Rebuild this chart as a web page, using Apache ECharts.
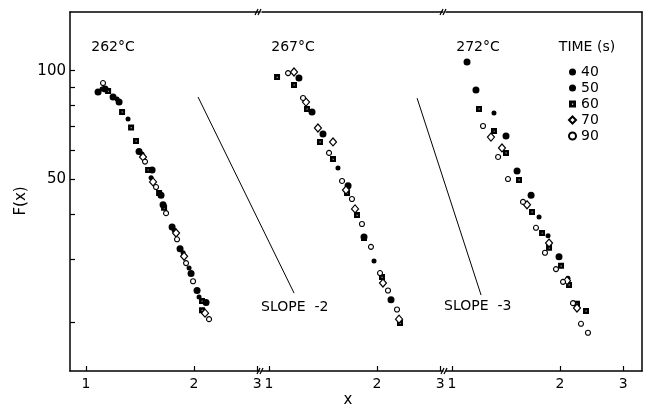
<!DOCTYPE html>
<html>
<head>
<meta charset="utf-8">
<script src="https://cdn.jsdelivr.net/npm/echarts@6/dist/echarts.min.js"></script>
<style>
  html, body { margin: 0; padding: 0; background: #fff; }
  #chart { width: 649px; height: 409px; }
</style>
</head>
<body>
<div id="chart"></div>
<script>
// tick values and labels
const xTicks = [1, 2, 3];
const yTicks = [20, 30, 40, 50, 60, 70, 80, 90, 100];
const yLabels = [50, 100];
const times = ['40', '50', '60', '70', '90'];
const temps = ['262°C', '267°C', '272°C'];

// visible x range of each panel (log axis, broken between panels)
const xRanges = [[0.902, 3.054], [0.956, 3.055], [0.962, 3.385]];
const yRange = [14.64, 145.6];
// continuous x range (262 panel scale carried across the whole frame), used for the slope guides
const guideRange = [0.902, 35.45];

// 262 °C
const t262_40 = [[1.080, 87.3], [1.130, 88.9], [1.189, 84.5], [1.236, 81.8], [1.405, 59.6], [1.528, 53.0], [1.618, 45.1], [1.639, 42.4], [1.737, 36.8], [1.828, 32.0], [1.962, 27.3], [2.039, 24.5], [2.160, 22.7]];
const t262_50 = [[1.108, 88.9], [1.220, 83.5], [1.309, 73.4], [1.432, 58.7], [1.518, 50.4], [1.759, 36.1], [1.864, 31.2], [1.937, 28.3], [2.065, 23.5]];
const t262_60 = [[1.152, 87.8], [1.260, 76.8], [1.335, 69.5], [1.378, 63.8], [1.489, 53.0], [1.598, 45.7], [1.650, 41.6], [2.105, 22.9], [2.105, 21.6]];
const t262_70 = [[1.441, 57.6], [1.537, 49.1], [1.782, 35.4], [1.876, 30.5], [2.146, 21.2]];
const t262_90 = [[1.115, 92.4], [1.460, 55.9], [1.567, 47.5], [1.671, 40.2], [1.793, 34.0], [1.900, 29.2], [1.987, 26.0], [2.202, 20.4]];

// 267 °C
const t267_40 = [[1.212, 95.4], [1.318, 76.8], [1.414, 66.7], [1.661, 47.9], [1.840, 34.5], [2.188, 23.1]];
const t267_50 = [[1.557, 53.7], [1.962, 29.6]];
const t267_60 = [[1.053, 96.0], [1.174, 91.3], [1.276, 78.3], [1.387, 63.4], [1.508, 56.8], [1.650, 45.7], [1.759, 39.7], [1.840, 34.3], [2.065, 26.7], [2.318, 19.9]];
const t267_70 = [[1.174, 99.2], [1.268, 81.8], [1.369, 69.3], [1.508, 63.4], [1.639, 46.6], [1.737, 41.3], [2.078, 25.7], [2.304, 20.4]];
const t267_90 = [[1.130, 98.5], [1.244, 84.0], [1.470, 59.1], [1.598, 49.4], [1.703, 44.0], [1.816, 37.5], [1.924, 32.4], [2.039, 27.4], [2.146, 24.5], [2.274, 21.7]];

// 272 °C
const t272_40 = [[1.101, 105.7], [1.166, 88.4], [1.414, 65.9], [1.518, 52.6], [1.661, 45.1], [1.987, 30.4]];
const t272_50 = [[1.309, 76.3], [1.748, 39.2], [1.852, 34.8], [2.105, 26.5]];
const t272_60 = [[1.189, 78.3], [1.309, 68.0], [1.414, 59.1], [1.537, 49.7], [1.671, 40.5], [1.782, 35.4], [1.864, 32.2], [2.013, 28.7], [2.119, 25.4], [2.230, 22.5], [2.363, 21.5]];
const t272_70 = [[1.284, 65.4], [1.378, 61.0], [1.618, 42.4], [1.864, 33.2], [2.092, 26.1], [2.230, 21.9]];
const t272_90 = [[1.220, 70.2], [1.344, 57.6], [1.432, 50.0], [1.577, 43.2], [1.714, 36.6], [1.816, 31.2], [1.949, 28.1], [2.039, 25.9], [2.174, 22.6], [2.288, 19.8], [2.393, 18.7]];

// reference slope lines (x, F) on the continuous guide scale
const slope2Line = [[2.052, 84.5], [3.80, 24.1]];
const slope3Line = [[8.37, 83.9], [12.62, 23.8]];

const panels = [
  [t262_40, t262_50, t262_60, t262_70, t262_90],
  [t267_40, t267_50, t267_60, t267_70, t267_90],
  [t272_40, t272_50, t272_60, t272_70, t272_90]
];

const FONT = 'DejaVu Sans';
const INK = '#000';

const markers = {
  '40': { symbol: 'circle', symbolSize: 7, itemStyle: { color: INK, opacity: 1 } },
  '50': { symbol: 'circle', symbolSize: 5, itemStyle: { color: INK, opacity: 1 } },
  '60': { symbol: 'path://M0 0L10 0L10 10L0 10Z M4.4 4.4L4.4 6L6 6L6 4.4Z', symbolSize: 6, itemStyle: { color: INK, opacity: 1 } },
  '70': { symbol: 'diamond', symbolSize: [7, 8], itemStyle: { color: '#fff', borderColor: INK, borderWidth: 1.2, opacity: 1 } },
  '90': { symbol: 'circle', symbolSize: 5, itemStyle: { color: '#fff', borderColor: INK, borderWidth: 1.1, opacity: 1 } }
};

const gridBoxes = [
  { left: 70, width: 190 },
  { left: 262, width: 181 },
  { left: 446, width: 196 },
  { left: 70, width: 572 }   // overlay for slope guides
];

const chart = echarts.init(document.getElementById('chart'), null, { renderer: 'canvas' });

const frameLine = { show: true, onZero: false, lineStyle: { color: INK, width: 1.5 } };

const grid = gridBoxes.map(b => ({ left: b.left, width: b.width, top: 12, height: 359 }));

const xAxis = [];
xRanges.forEach((r, i) => {
  xAxis.push({
    type: 'log', logBase: 10, gridIndex: i, min: r[0], max: r[1],
    axisLine: frameLine,
    axisTick: { show: true, inside: true, length: 5, customValues: xTicks, lineStyle: { color: INK, width: 1.2 } },
    axisLabel: { customValues: xTicks, color: INK, fontSize: 14, fontFamily: FONT, margin: 6 },
    splitLine: { show: false }, minorTick: { show: false }
  });
});
xRanges.forEach((r, i) => {
  xAxis.push({
    type: 'log', logBase: 10, gridIndex: i, min: r[0], max: r[1], position: 'top',
    axisLine: frameLine, axisTick: { show: false }, axisLabel: { show: false }, splitLine: { show: false }
  });
});
xAxis.push({ type: 'log', logBase: 10, gridIndex: 3, min: guideRange[0], max: guideRange[1], show: false });

const yAxis = [
  {
    type: 'log', logBase: 10, gridIndex: 0, min: yRange[0], max: yRange[1],
    axisLine: frameLine,
    axisTick: { show: true, inside: true, length: 5, customValues: yTicks, lineStyle: { color: INK, width: 1.2 } },
    axisLabel: { customValues: yLabels, color: INK, fontSize: 15, fontFamily: FONT, margin: 4 },
    splitLine: { show: false }
  },
  { type: 'log', logBase: 10, gridIndex: 1, min: yRange[0], max: yRange[1], show: false },
  {
    type: 'log', logBase: 10, gridIndex: 2, min: yRange[0], max: yRange[1], position: 'right',
    axisLine: frameLine, axisTick: { show: false }, axisLabel: { show: false }, splitLine: { show: false }
  },
  { type: 'log', logBase: 10, gridIndex: 3, min: yRange[0], max: yRange[1], show: false }
];

const series = [];
panels.forEach((sets, p) => {
  sets.forEach((data, k) => {
    const m = markers[times[k]];
    series.push({
      type: 'scatter', name: times[k], xAxisIndex: p, yAxisIndex: p,
      data: data, symbol: m.symbol, symbolSize: m.symbolSize, itemStyle: m.itemStyle,
      clip: false, z: 3 + k
    });
  });
});
[slope2Line, slope3Line].forEach((d, i) => {
  series.push({
    type: 'line', name: 'slope ' + (i + 2), xAxisIndex: 6, yAxisIndex: 3, data: d,
    symbol: 'none', silent: true, lineStyle: { color: INK, width: 1 }, z: 2
  });
});

function txt(text, x, y, size, align, rotation) {
  return {
    type: 'text', x: x, y: y, silent: true, rotation: rotation || 0,
    style: {
      text: text, font: size + 'px "' + FONT + '"', fill: INK,
      align: align || 'center', textAlign: align || 'center',
      verticalAlign: 'middle', textVerticalAlign: 'middle'
    }
  };
}
function tick(x1, y1, x2, y2) {
  return { type: 'line', silent: true, shape: { x1, y1, x2, y2 }, style: { stroke: INK, lineWidth: 1.2 } };
}

const graphic = [
  txt(temps[0], 113, 47, 14),
  txt(temps[1], 293, 47, 14),
  txt(temps[2], 478, 47, 14),
  txt('TIME (s)', 587, 47, 14),
  txt('SLOPE  -2', 261, 307, 14, 'left'),
  txt('SLOPE  -3', 444, 306, 14, 'left'),
  txt('x', 348, 400, 15),
  txt('F(x)', 21, 201, 15, 'center', Math.PI / 2),
  // break marks on top and bottom frame
  tick(255, 15, 258, 9), tick(258, 15, 261, 9),
  tick(440, 15, 443, 9), tick(443, 15, 446, 9),
  tick(257, 374, 260, 368), tick(260, 374, 263, 368),
  tick(441, 374, 444, 368), tick(444, 374, 447, 368)
];

chart.setOption({
  animation: false,
  backgroundColor: '#fff',
  grid: grid,
  xAxis: xAxis,
  yAxis: yAxis,
  legend: {
    data: times, orient: 'vertical', left: 563, top: 59,
    itemWidth: 7, itemHeight: 7, itemGap: 0,
    textStyle: { color: INK, fontSize: 14, fontFamily: FONT, lineHeight: 16 },
    selectedMode: false
  },
  series: series,
  graphic: graphic
});
</script>
</body>
</html>
